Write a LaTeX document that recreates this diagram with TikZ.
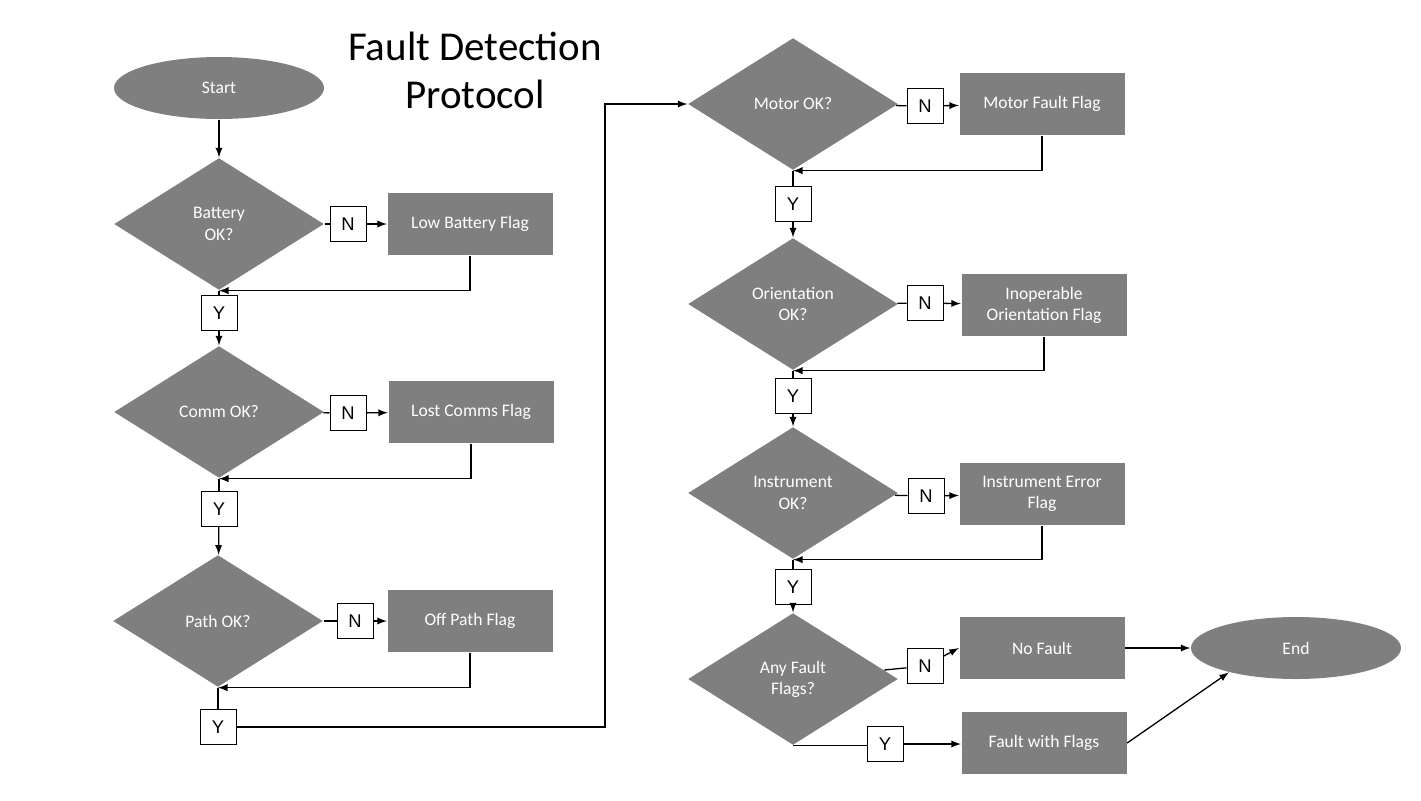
\documentclass[tikz,border=0pt]{standalone}
\usepackage{fontspec}
\setmainfont{Carlito}
\newfontfamily\ynfont{Liberation Sans}
\usetikzlibrary{shapes,arrows}
\definecolor{flowgray}{RGB}{127, 127, 127}
\begin{document}
\begin{tikzpicture}[x=0.5pt, y=-0.5pt,
				>=latex,   %Voreinstellung für Pfeilspitzen
				line width=0.65pt,
				decision/.style={diamond, aspect=1.6, fill=flowgray, text=white, minimum width=105pt, minimum height=66pt, inner sep=0pt, align=center, font=\fontsize{8.8}{10.6}\selectfont},
				flag/.style={rectangle, fill=flowgray, text=white, minimum width=82.5pt, minimum height=31pt, inner sep=1pt, align=center, font=\fontsize{8.8}{10.6}\selectfont},
				term/.style={ellipse, fill=flowgray, text=white, minimum width=105pt, minimum height=31pt, font=\fontsize{8.8}{10.6}\selectfont},
				yn/.style={draw, fill=white, line width=0.5pt, minimum width=18pt, minimum height=17.5pt, inner sep=0pt, font=\ynfont\fontsize{9.2}{10}\selectfont}]
				%Bildbereich
				\useasboundingbox (0,0) rectangle (1421,800);
				%Titel
				\node[anchor=base, font=\fontsize{20.5}{24}\selectfont] (title) at (475,60) {Fault Detection};
				\node[anchor=base, font=\fontsize{20.5}{24}\selectfont] (title2) at (475,108) {Protocol};
				%Linke Spalte
				\node[term] (start) at (219,88) {Start};
				\node[decision] (bat) at (219,224) {Battery\\OK?};
				\node[yn] (nb) at (348,224) {N};
				\node[flag] (lowbat) at (470,224) {Low Battery Flag};
				\node[yn] (yb) at (219,313) {Y};
				\node[decision] (comm) at (219,412) {Comm OK?};
				\node[yn] (nc) at (348,413) {N};
				\node[flag] (lostcomm) at (471,412) {Lost Comms Flag};
				\node[yn] (yc) at (219,509) {Y};
				\node[decision] (path) at (218,621) {Path OK?};
				\node[yn] (np) at (355,621) {N};
				\node[flag] (offpath) at (470,621) {Off Path Flag};
				\node[yn] (yp) at (218,727) {Y};
				%Rechte Spalte
				\node[decision] (motor) at (793,104) {Motor OK?};
				\node[yn] (nm) at (925,106) {N};
				\node[flag] (motorflag) at (1042,104) {Motor Fault Flag};
				\node[yn] (ym) at (793,204) {Y};
				\node[decision] (orient) at (793,304) {Orientation\\OK?};
				\node[yn] (no) at (925,303) {N};
				\node[flag] (orientflag) at (1044,305) {Inoperable\\Orientation Flag};
				\node[yn] (yo) at (793,396) {Y};
				\node[decision] (instr) at (793,493) {Instrument\\OK?};
				\node[yn] (ni) at (926,496) {N};
				\node[flag] (instrflag) at (1042,494) {Instrument Error\\Flag};
				\node[yn] (yi) at (793,587) {Y};
				\node[decision] (any) at (793,679) {Any Fault\\Flags?};
				\node[yn] (na) at (925,666) {N};
				\node[flag] (nofault) at (1042,648) {No Fault};
				\node[yn] (ya) at (885,744) {Y};
				\node[flag] (faultflags) at (1044,743) {Fault with Flags};
				\node[term] (end) at (1296,648) {End};
				\coordinate (knick) at (605,0);
				%Verbindungen
				\draw[->] (start) -- (bat);
				\foreach \d/\n/\f/\y/\next in {bat/nb/lowbat/yb/comm, comm/nc/lostcomm/yc/path, motor/nm/motorflag/ym/orient, orient/no/orientflag/yo/instr, instr/ni/instrflag/yi/any}
				{
					\draw (\d) -- (\n);
					\draw[->] (\n) -- (\f);
					\draw[->] (\f.south) |- (\d.south);
					\draw (\d.south) -- (\y);
					\draw[->] (\y) -- (\next);
				}
				\draw (path) -- (np);
				\draw[->] (np) -- (offpath);
				\draw[->] (offpath.south) |- (path.south);
				\draw (path.south) -- (yp);
				\draw[->] (yp.east) -| (knick |- motor.west) -- (motor.west);
				\draw (any) -- (na);
				\draw[->] (na) -- (nofault.west);
				\draw (any.south) -- (any.south -| ya.west);
				\draw[->] (ya) -- (ya -| faultflags.west);
				\draw[->] (nofault) -- (end);
				\draw[->] (faultflags.east) -- (end.200);
			\end{tikzpicture}
\end{document}
